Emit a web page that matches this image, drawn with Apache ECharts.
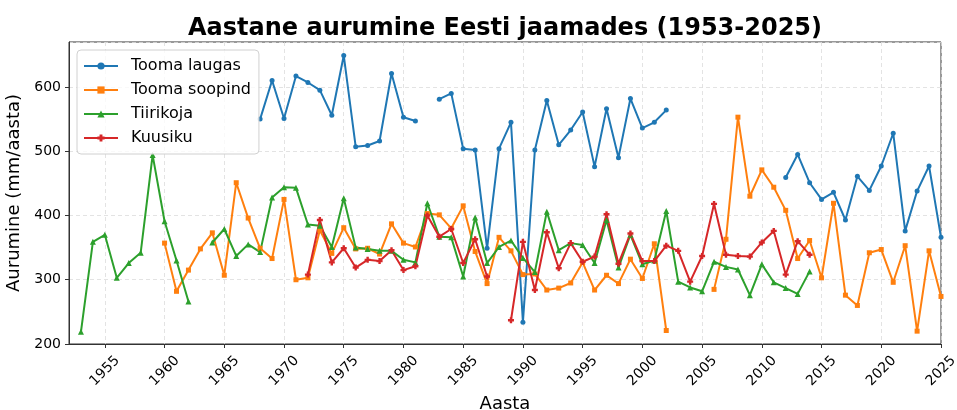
<!DOCTYPE html>
<html>
<head>
<meta charset="utf-8">
<script src="https://cdn.jsdelivr.net/npm/echarts@6/dist/echarts.min.js"></script>
<style>
  html, body { margin: 0; padding: 0; background: #fff; }
  #chart { width: 957px; height: 410px; }
</style>
</head>
<body>
<div id="chart"></div>
<script>
  // aastad x-teljel (1952..2025)
  const years = [];
  for (let y = 1952; y <= 2025; y++) years.push(String(y));

  // Tooma laugas, 1968..2025
  const toomaLaugasStart = 1968;
  const toomaLaugas = [550, 610, 551, 617, 607, 595, 556, 649, 507, 509,
    516, 621, 553, 547, null, 581, 590, 504, 502, 349,
    504, 545, 234, 502, 579, 510, 533, 561, 476, 566,
    490, 582, 536, 545, 564, null, null, null, null, null,
    null, null, null, null, 459, 495, 451, 425, 436, 393,
    461, 439, 477, 528, 376, 438, 477, 366];

  // Tooma soopind, 1960..2025
  const toomaSoopindStart = 1960;
  const toomaSoopind = [357, 282, 315, 348, 373, 307, 451, 396, 349, 333,
    425, 300, 303, 377, 341, 381, 348, 349, 340, 387,
    357, 351, 403, 401, 380, 415, 344, 294, 366, 345,
    308, 309, 284, 287, 295, 327, 284, 307, 294, 332,
    302, 356, 221, null, null, null, 285, 363, 553, 430,
    471, 444, 408, 333, 361, 303, 419, 276, 260, 342,
    347, 296, 353, 220, 345, 274];

  // Tiirikoja, 1953..2014
  const tiirikojaStart = 1953;
  const tiirikoja = [219, 359, 370, 303, 326, 342, 494, 391, 330, 266,
    null, 358, 379, 337, 355, 343, 428, 444, 443, 386,
    384, 351, 427, 350, 348, 345, 345, 331, 327, 419,
    367, 366, 305, 397, 326, 351, 361, 334, 312, 406,
    346, 357, 354, 326, 393, 319, 370, 324, 330, 407,
    297, 288, 282, 328, 320, 316, 276, 324, 296, 287,
    278, 313];

  // Kuusiku, 1972..2014
  const kuusikuStart = 1972;
  const kuusiku = [308, 393, 327, 349, 319, 331, 329, 346, 315, 321,
    400, 367, 379, 326, 363, 305, null, 237, 359, 284,
    374, 318, 357, 328, 336, 402, 325, 372, 329, 329,
    353, 345, 297, 337, 418, 339, 337, 336, 358, 376,
    308, 360, 339];

  function onAxis(start, vals) {
    const out = years.map(function () { return null; });
    vals.forEach(function (v, i) {
      const idx = start + i - 1952;
      if (idx >= 0 && idx < out.length) out[idx] = v;
    });
    return out;
  }

  const everyFive = function (index, value) { return Number(value) % 5 === 0; };
  const plusPath = 'path://M3,0H7V3H10V7H7V10H3V7H0V3H3Z';
  const font = 'DejaVu Sans';

  function lineSeries(name, color, symbol, size, data) {
    return {
      name: name,
      type: 'line',
      data: data,
      symbol: symbol,
      symbolSize: size,
      showAllSymbol: true,
      connectNulls: false,
      lineStyle: { color: color, width: 2 },
      itemStyle: { color: color },
      emphasis: { disabled: true },
      animation: false
    };
  }

  const chart = echarts.init(document.getElementById('chart'));
  chart.setOption({
    animation: false,
    title: {
      text: 'Aastane aurumine Eesti jaamades (1953-2025)',
      left: 500,
      textAlign: 'center',
      top: 12,
      textStyle: { fontFamily: font, fontWeight: 'bold', fontSize: 24, color: '#000' }
    },
    legend: {
      orient: 'vertical',
      left: 77,
      top: 50,
      itemWidth: 34,
      itemHeight: 9,
      itemGap: 8,
      padding: [8, 8, 8, 6],
      backgroundColor: 'rgba(255,255,255,0.8)',
      borderColor: '#d0d0d0',
      borderWidth: 1,
      borderRadius: 4,
      textStyle: { fontFamily: font, fontSize: 16, color: '#000', padding: [0, 0, 0, 8] },
      data: ['Tooma laugas', 'Tooma soopind', 'Tiirikoja', 'Kuusiku']
    },
    grid: {
      left: 69, right: 16, top: 42, bottom: 66,
      outerBoundsMode: 'none',
      containLabel: false,
      show: true,
      borderColor: '#333',
      borderWidth: 1,
      backgroundColor: 'transparent'
    },
    xAxis: {
      type: 'category',
      data: years,
      boundaryGap: false,
      name: 'Aasta',
      nameLocation: 'middle',
      nameGap: 50,
      nameTextStyle: { fontFamily: font, fontSize: 18, color: '#000' },
      axisLine: { lineStyle: { color: '#333', width: 1 } },
      axisTick: { interval: everyFive, length: 4, lineStyle: { color: '#333' } },
      axisLabel: {
        interval: everyFive,
        rotate: 45,
        align: 'center',
        verticalAlign: 'middle',
        margin: 27,
        fontFamily: font,
        fontSize: 14,
        color: '#000'
      },
      splitLine: {
        show: true,
        interval: everyFive,
        lineStyle: { color: '#dcdcdc', type: [4, 3], width: 0.8 }
      }
    },
    yAxis: {
      type: 'value',
      min: 200,
      max: 670,
      interval: 100,
      name: 'Aurumine (mm/aasta)',
      nameLocation: 'middle',
      nameGap: 36,
      nameTextStyle: { fontFamily: font, fontSize: 18, color: '#000' },
      axisLine: { show: true, lineStyle: { color: '#333', width: 1 } },
      axisTick: { show: true, length: 4, lineStyle: { color: '#333' } },
      axisLabel: {
        showMaxLabel: false,
        margin: 8,
        fontFamily: font,
        fontSize: 14,
        color: '#000'
      },
      splitLine: {
        show: true,
        lineStyle: { color: '#dcdcdc', type: [4, 3], width: 0.8 }
      }
    },
    series: [
      lineSeries('Tooma laugas', '#1f77b4', 'circle', 5, onAxis(toomaLaugasStart, toomaLaugas)),
      lineSeries('Tooma soopind', '#ff7f0e', 'rect', 5, onAxis(toomaSoopindStart, toomaSoopind)),
      lineSeries('Tiirikoja', '#2ca02c', 'triangle', 6, onAxis(tiirikojaStart, tiirikoja)),
      lineSeries('Kuusiku', '#d62728', plusPath, 6, onAxis(kuusikuStart, kuusiku))
    ]
  });
</script>
</body>
</html>
